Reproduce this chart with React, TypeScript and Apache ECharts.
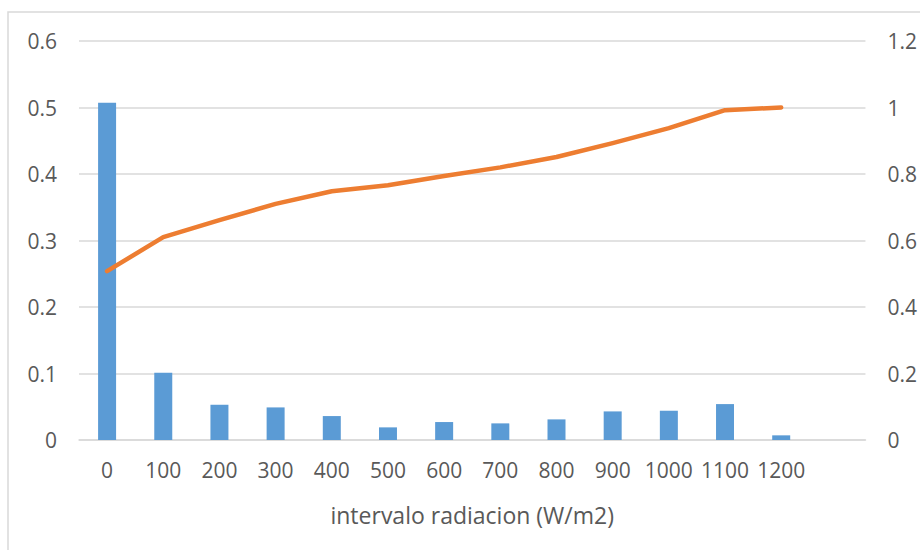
import React, { useEffect, useRef } from "react";
import * as echarts from "echarts";

// Radiation interval classes (W/m2); the trailing blank slot leaves an empty band at the right.
const categories = ["0", "100", "200", "300", "400", "500", "600", "700", "800", "900", "1000", "1100", "1200", ""];
// Relative frequency of each interval (left axis)
const frequency = [0.507, 0.101, 0.053, 0.049, 0.036, 0.019, 0.027, 0.025, 0.031, 0.043, 0.044, 0.054, 0.007, null];
// Cumulative frequency (right axis)
const cumulative = [0.508, 0.61, 0.661, 0.71, 0.748, 0.766, 0.794, 0.82, 0.851, 0.893, 0.938, 0.992, 1.0, null];

const leftTicks = { min: 0, max: 0.6, interval: 0.1 };
const rightTicks = { min: 0, max: 1.2, interval: 0.2 };

const FONT = "'Open Sans', 'Liberation Sans', sans-serif";
const TEXT = "#595959";
const GRID = "#d9d9d9";

export default function App() {
  const ref = useRef<HTMLDivElement>(null);

  useEffect(() => {
    if (!ref.current) return;
    const chart = echarts.init(ref.current, null, { renderer: "svg" });
    chart.setOption({
      animation: false,
      backgroundColor: "#ffffff",
      textStyle: { fontFamily: FONT },
      graphic: [
        {
          type: "rect",
          shape: { x: 8, y: 12, width: 1000, height: 700 },
          style: { fill: "none", stroke: GRID, lineWidth: 1.5 },
          silent: true,
          z: -10,
        },
      ],
      grid: { left: 79, right: 54, top: 41, bottom: 110, containLabel: false },
      xAxis: {
        type: "category",
        data: categories,
        boundaryGap: true,
        axisLine: { show: true, lineStyle: { color: GRID, width: 1.5 } },
        axisTick: { show: false },
        axisLabel: { color: TEXT, fontSize: 21, margin: 19, fontFamily: FONT, interval: 0 },
        name: "intervalo radiacion (W/m2)",
        nameLocation: "middle",
        nameGap: 63,
        nameTextStyle: { color: TEXT, fontSize: 23, fontFamily: FONT },
      },
      yAxis: [
        {
          type: "value",
          ...leftTicks,
          axisLine: { show: false },
          axisTick: { show: false },
          splitLine: { show: true, lineStyle: { color: GRID, width: 1.5 } },
          axisLabel: { color: TEXT, fontSize: 21, margin: 22, fontFamily: FONT },
        },
        {
          type: "value",
          position: "right",
          ...rightTicks,
          axisLine: { show: false },
          axisTick: { show: false },
          splitLine: { show: false },
          axisLabel: { color: TEXT, fontSize: 21, margin: 22, fontFamily: FONT },
        },
      ],
      series: [
        {
          type: "bar",
          data: frequency,
          yAxisIndex: 0,
          barWidth: 18,
          itemStyle: { color: "#5B9BD5" },
        },
        {
          type: "line",
          data: cumulative,
          yAxisIndex: 1,
          showSymbol: false,
          symbol: "none",
          connectNulls: false,
          lineStyle: { color: "#ED7D31", width: 4.5, cap: "round", join: "round" },
          itemStyle: { color: "#ED7D31" },
        },
      ],
    });
    return () => chart.dispose();
  }, []);

  return (
    <div
      ref={ref}
      style={{ position: "fixed", left: 0, top: 0, width: 920, height: 550 }}
    />
  );
}
